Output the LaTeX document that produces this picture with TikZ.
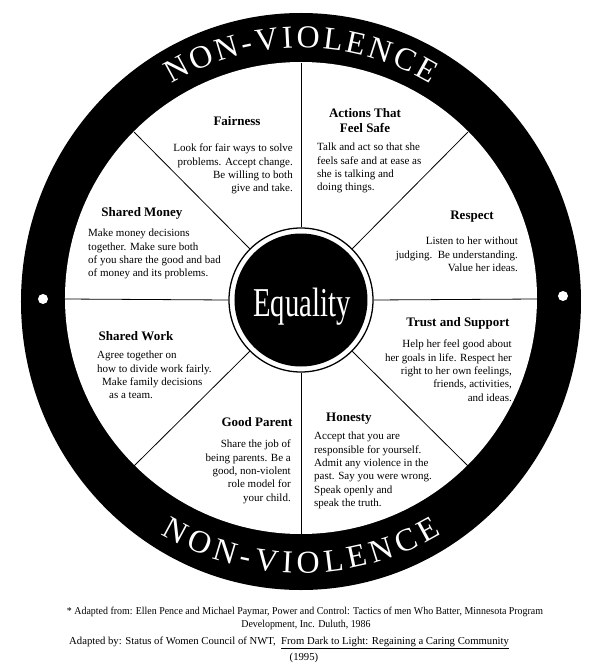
\documentclass[tikz,border=0pt]{standalone}
\usepackage{fontspec}
\setmainfont{Liberation Serif}
\newfontfamily\eqfont[FakeStretch=0.7]{Liberation Serif}
\newfontfamily\fnfont[FakeStretch=0.945]{Liberation Serif}
\begin{document}
\begin{tikzpicture}[x=1pt,y=1pt,
  body/.style={font=\fontsize{11}{13.3}\selectfont, inner sep=0pt},
  bodyr/.style={body, align=right},
  bodyl/.style={body, align=left},
  head/.style={font=\fontsize{13}{15}\selectfont\bfseries, inner sep=0pt, align=center},
  spoke/.style={line width=0.8pt},
  ringtext/.style={font=\fontsize{32}{32}\selectfont, text=white, inner sep=0pt, anchor=base},
  fn/.style={font=\fnfont\fontsize{10.5}{12}\selectfont, inner sep=0pt},
  fnb/.style={font=\fontsize{10.7}{12}\selectfont, inner sep=0pt}
]
\useasboundingbox (-301,-368) rectangle (299,299);
\fill[white] (-301,-368) rectangle (299,299);
% rim
\fill[black] (0,-2.5) ellipse [x radius=280, y radius=288.5];
\fill[white] (0,1) circle (236);
\fill[white] (-258,0) circle (5);
\fill[white] (262,3) circle (5);
% hub
\node[circle, draw, line width=1.3pt, minimum size=144pt, inner sep=0pt] (hub) at (0,-1) {};
\fill[black] (hub.center) circle (66.5);
\foreach \a in {0,45,...,315} \draw[spoke] (hub.\a) -- (\a:236);
\node[font=\eqfont\fontsize{41}{41}\selectfont, text=white, anchor=base, inner sep=0pt] (eqtext) at (1,-17) {Equality};
% ring letters
\def\F{32}\def\G{0.12}
\foreach \ch/\a/\b [count=\i] in {N/-3.388/-5.5, O/-2.666/-4.5, N/-1.944/-3.5, -/-1.4165/-2.5, V/-0.889/-1.5, I/-0.3615/-0.5, O/0.166/0.5, L/0.8325/1.5, E/1.4435/2.5, N/2.110/3.5, C/2.8045/4.5, E/3.4435/5.5}{
  \pgfmathsetmacro\angA{(\a+\b*\G)*\F/261*57.2958}
  \node[ringtext, rotate=-\angA] (top\i) at (90-\angA:251) {\ch};
  \pgfmathsetmacro\angB{(\a+\b*\G)*\F/262*57.2958}
  \node[ringtext, rotate=\angB] (bot\i) at (270+\angB:274) {\ch};
}
% sections
\node[head] (h1) at (-64,178) {Fairness};
\node[bodyr, anchor=north east] (b1) at (-8,155) {Look for fair ways to solve\\problems. Accept change.\\Be willing to both\\give and take.};
\node[head] (h2) at (64,178.5) {Actions That\\Feel Safe};
\node[bodyl, anchor=north west] (b2) at (16,156) {Talk and act so that she\\feels safe and at ease as\\she is talking and\\doing things.};
\node[head] (h3) at (171,82) {Respect};
\node[bodyr, anchor=north east] (b3) at (217,62) {Listen to her without\\judging.\ \ Be understanding.\\Value her ideas.};
\node[head] (h4) at (157,-24) {Trust and Support};
\node[bodyr, anchor=north east] (b4) at (211,-41) {Help her feel good about\\her goals in life. Respect her\\right to her own feelings,\\friends, activities,\\and ideas.};
\node[head] (h5) at (48,-120) {Honesty};
\node[bodyl, anchor=north west] (b5) at (13,-133) {Accept that you are\\responsible for yourself.\\Admit any violence in the\\past. Say you were wrong.\\Speak openly and\\speak the truth.};
\node[head] (h6) at (-44,-123) {Good Parent};
\node[bodyr, anchor=north east] (b6) at (-10,-141) {Share the job of\\being parents. Be a\\good, non-violent\\role model for\\your child.};
\node[head] (h7) at (-165,-37) {Shared Work};
\node[bodyl, anchor=north west] (b7) at (-204,-52) {Agree together on\\how to divide work fairly.\\\hspace*{5pt}Make family decisions\\\hspace*{12pt}as a team.};
\node[head] (h8) at (-159,86) {Shared Money};
\node[bodyl, anchor=north west] (b8) at (-213,70) {Make money decisions\\together. Make sure both\\of you share the good and bad\\of money and its problems.};
% footnotes
\node[fn] (fn1) at (4,-313) {* Adapted from: Ellen Pence and Michael Paymar, Power and Control: Tactics of men Who Batter, Minnesota Program};
\node[fn] (fn2) at (5,-326) {Development, Inc. Duluth, 1986};
\node[fnb, anchor=west] (fn3) at (-232,-344) {Adapted by: Status of Women Council of NWT,\ \ \underline{From Dark to Light: Regaining a Caring Community}};
\node[fnb] (fn4) at (3,-359) {(1995)};
\end{tikzpicture}
\end{document}
